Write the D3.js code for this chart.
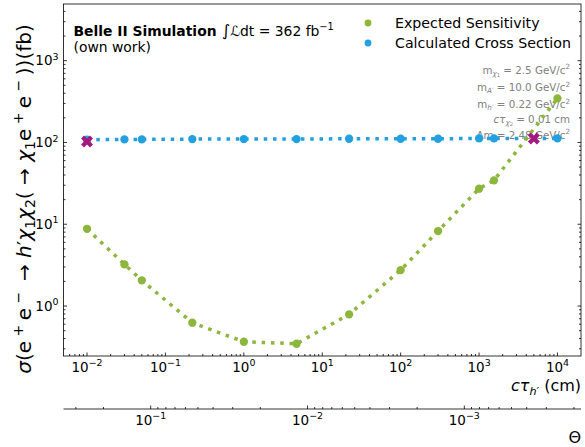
<!DOCTYPE html>
<html><head><meta charset="utf-8">
<script src="https://cdn.jsdelivr.net/npm/d3@7"></script>
<style>body{margin:0;background:#fff} text{font-family:"DejaVu Sans",sans-serif}</style>
</head><body><svg id="c" width="585" height="447"></svg>
<script>
// ---- data ----
const lifetimes    = [0.01, 0.03, 0.05, 0.22, 1, 4.7, 22, 100, 300, 1000, 1550, 10000];
const sensitivity  = [8.8, 3.23, 2.06, 0.625, 0.366, 0.346, 0.792, 2.75, 8.26, 27.2, 34.4, 346];
const crossSection = [108, 109, 109, 110, 110, 110, 111, 111, 111, 112, 112, 112];
const crossingX = [0.01, 5000];
const crossingY = [103, 112];
const xTickExps = [-2, -1, 0, 1, 2, 3, 4];
const yTickExps = [0, 1, 2, 3];
const thetaTickExps = [-1, -2, -3];
const legendLabels = ["Expected Sensitivity", "Calculated Cross Section"];

const GREEN = "#8cb63c", BLUE = "#22a0e0", MAG = "#a2197f", GRAY = "#808080";

const svg = d3.select("#c");
const L = 63.5, R = 581, T = 4, B = 356, SEC = 409;

const x = d3.scaleLog().domain([Math.pow(10, -2.3), Math.pow(10, 4.3)]).range([L, R]);
const y = d3.scaleLog().domain([Math.pow(10, -0.611), Math.pow(10, 3.693)]).range([B, T]);
// secondary axis: theta ~ 1/sqrt(c tau)
const thetaOf = v => Math.pow(10, -1.594 - 0.5 * Math.log10(v));
const th = d3.scaleLog().domain([thetaOf(x.domain()[0]), thetaOf(x.domain()[1])]).range([L, R]);

function minors(scale) {
  const [a, b] = scale.domain().map(Math.log10);
  const lo = Math.floor(Math.min(a, b)), hi = Math.ceil(Math.max(a, b));
  const out = [];
  for (let k = lo; k <= hi; k++) for (let m = 2; m <= 9; m++) {
    const v = m * Math.pow(10, k), lv = Math.log10(v);
    if (lv >= Math.min(a, b) && lv <= Math.max(a, b)) out.push(v);
  }
  return out;
}

const SUP = {size: 0.7, shift: 0.42};
const SUB = {size: 0.7, shift: -0.22};
function rich(g, px, py, parts, fs, anchor, fill) {
  const t = g.append("text").attr("x", px).attr("y", py).attr("font-size", fs)
    .attr("text-anchor", anchor || "start").attr("fill", fill || "#000").attr("xml:space", "preserve");
  let cur = 0;
  parts.forEach(p => {
    const sh = (p.shift || 0) * fs;
    const ts = t.append("tspan").text(p.t).attr("font-size", (p.size || 1) * fs).attr("dy", cur - sh);
    cur = sh;
    if (p.it) ts.attr("font-style", "italic");
    if (p.b) ts.attr("font-weight", "bold");
  });
  return t;
}
function pow10Label(g, px, py, e, fs, anchor) {
  const s = e < 0 ? "\u2212" + (-e) : "" + e;
  rich(g, px, py, [{t: "10"}, Object.assign({t: s}, SUP)], fs, anchor);
}

// ---- annotations (drawn under data) ----
const ann = svg.append("g");
const AFS = 10.3;
rich(ann, 570, 73.5, [{t: "m"}, {t: "\u03c7", it: 1, size: 0.7, shift: -0.22}, {t: "1", size: 0.5, shift: -0.32}, {t: " = 2.5 GeV/c"}, Object.assign({t: "2"}, SUP)], AFS, "end", GRAY);
rich(ann, 570, 91, [{t: "m"}, {t: "A\u2032", it: 1, size: 0.7, shift: -0.22}, {t: " = 10.0 GeV/c"}, Object.assign({t: "2"}, SUP)], AFS, "end", GRAY);
rich(ann, 570, 108, [{t: "m"}, {t: "h\u2032", it: 1, size: 0.7, shift: -0.22}, {t: " = 0.22 GeV/c"}, Object.assign({t: "2"}, SUP)], AFS, "end", GRAY);
rich(ann, 570, 122.5, [{t: "c\u03c4", it: 1}, {t: "\u03c7", it: 1, size: 0.7, shift: -0.22}, {t: "2", size: 0.5, shift: -0.32}, {t: " = 0.01 cm"}], AFS, "end", GRAY);
rich(ann, 570, 138.5, [{t: "\u0394m = 2.48 GeV/c"}, Object.assign({t: "2"}, SUP)], AFS, "end", GRAY);

// ---- frame & ticks ----
const ax = svg.append("g").attr("stroke", "#000").attr("stroke-width", 0.8);
ax.append("rect").attr("x", L).attr("y", T).attr("width", R - L).attr("height", B - T).attr("fill", "none");
const xMaj = xTickExps.map(e => Math.pow(10, e));
const yMaj = yTickExps.map(e => Math.pow(10, e));
xMaj.forEach(v => ax.append("line").attr("x1", x(v)).attr("x2", x(v)).attr("y1", B).attr("y2", B - 3.5));
minors(x).forEach(v => ax.append("line").attr("x1", x(v)).attr("x2", x(v)).attr("y1", B).attr("y2", B - 2));
[[L, 1], [R, -1]].forEach(([xx, d]) => {
  yMaj.forEach(v => ax.append("line").attr("x1", xx).attr("x2", xx + d * 3.5).attr("y1", y(v)).attr("y2", y(v)));
  minors(y).forEach(v => ax.append("line").attr("x1", xx).attr("x2", xx + d * 2).attr("y1", y(v)).attr("y2", y(v)));
});
// secondary axis
ax.append("line").attr("x1", L).attr("x2", R).attr("y1", SEC).attr("y2", SEC);
thetaTickExps.forEach(e => { const v = Math.pow(10, e); ax.append("line").attr("x1", th(v)).attr("x2", th(v)).attr("y1", SEC).attr("y2", SEC - 3.5); });
minors(th).forEach(v => ax.append("line").attr("x1", th(v)).attr("x2", th(v)).attr("y1", SEC).attr("y2", SEC - 2));

const lab = svg.append("g");
const TFS = 13.5;
xTickExps.forEach(e => pow10Label(lab, x(Math.pow(10, e)), 371.5, e, TFS, "middle"));
yTickExps.forEach(e => pow10Label(lab, 58.5, y(Math.pow(10, e)) + 4.8, e, TFS, "end"));
thetaTickExps.forEach(e => pow10Label(lab, th(Math.pow(10, e)), 424.5, e, TFS, "middle"));

// axis labels
rich(lab, 581, 391, [{t: "c\u03c4", it: 1}, {t: "h\u2032", it: 1, size: 0.7, shift: -0.22}, {t: " (cm)"}], 16, "end");
lab.append("text").attr("x", 581).attr("y", 443).attr("text-anchor", "end").attr("font-size", 16).text("\u0398");
const yl = svg.append("g").attr("transform", "translate(31,199) rotate(-90)");
rich(yl, 0, 0, [
  {t: "\u03c3", it: 1}, {t: "(e"}, Object.assign({t: " + "}, SUP), {t: "e"}, Object.assign({t: " \u2212 "}, SUP),
  {t: " \u2192 "}, {t: "h", it: 1}, {t: "\u2032"}, {t: "\u03c7", it: 1}, Object.assign({t: "1"}, SUB),
  {t: "\u03c7", it: 1}, Object.assign({t: "2"}, SUB), {t: "( \u2192 "}, {t: "\u03c7", it: 1}, Object.assign({t: "1"}, SUB),
  {t: "e"}, Object.assign({t: " + "}, SUP), {t: "e"}, Object.assign({t: " \u2212 "}, SUP), {t: "))(fb)"}
], 20, "middle");

// ---- title text ----
rich(lab, 73.5, 35.7, [{t: "Belle II Simulation", b: 1}, {t: " \u222b", size: 1.15}, {t: "\u2112", it: 1}, {t: "dt = 362 fb"}, Object.assign({t: "\u22121"}, SUP)], 13.9, "start");
lab.append("text").attr("x", 73.5).attr("y", 51.5).attr("font-size", 13.9).text("(own work)");

// ---- data lines ----
const line = d3.line().x(d => x(d[0])).y(d => y(d[1]));
const dataG = svg.append("g");
dataG.append("path").datum(lifetimes.map((v, i) => [v, crossSection[i]])).attr("d", line)
  .attr("fill", "none").attr("stroke", BLUE).attr("stroke-width", 3.5).attr("stroke-dasharray", "3.5 5.8");
dataG.append("path").datum(lifetimes.map((v, i) => [v, sensitivity[i]])).attr("d", line)
  .attr("fill", "none").attr("stroke", GREEN).attr("stroke-width", 3.5).attr("stroke-dasharray", "3.5 5.8");
dataG.selectAll(".g").data(lifetimes.map((v, i) => [v, sensitivity[i]])).join("circle")
  .attr("cx", d => x(d[0])).attr("cy", d => y(d[1])).attr("r", 4.15).attr("fill", GREEN);
dataG.selectAll(".b").data(lifetimes.map((v, i) => [v, crossSection[i]])).join("circle")
  .attr("cx", d => x(d[0])).attr("cy", d => y(d[1])).attr("r", 4.15).attr("fill", BLUE);
// crossing markers (filled X)
const S = 12;
const xv = [[0.25,0],[0.5,0.25],[0.25,0.5],[0,0.25],[-0.25,0.5],[-0.5,0.25],[-0.25,0],[-0.5,-0.25],[-0.25,-0.5],[0,-0.25],[0.25,-0.5],[0.5,-0.25]];
const xPath = "M" + xv.map(p => (p[0] * S) + "," + (p[1] * S)).join("L") + "Z";
crossingX.forEach((v, i) => dataG.append("path").attr("d", xPath)
  .attr("transform", `translate(${x(v)},${y(crossingY[i])})`).attr("fill", MAG));

// ---- legend ----
const lg = svg.append("g");
[GREEN, BLUE].forEach((c, i) => {
  lg.append("circle").attr("cx", 368).attr("cy", 23 + i * 20).attr("r", 3.4).attr("fill", c);
  lg.append("text").attr("x", 395).attr("y", 23 + i * 20 + 5).attr("font-size", 14.2).text(legendLabels[i]);
});
</script></body></html>
